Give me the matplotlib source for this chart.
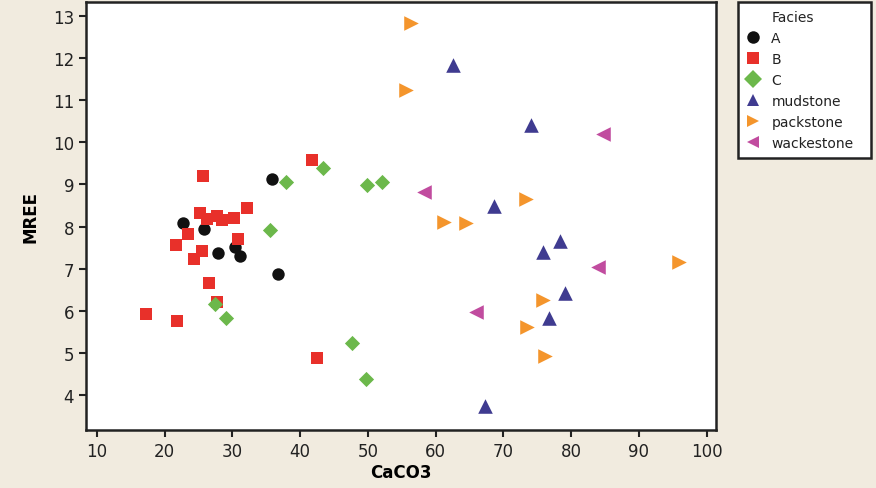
import matplotlib.pyplot as plt
from matplotlib.lines import Line2D

# values (CaCO3, MREE)
a_caco3 = [22.75, 25.85, 27.9, 30.4, 31.2, 35.8, 36.8]
a_mree = [8.08, 7.94, 7.37, 7.51, 7.30, 9.13, 6.87]

b_caco3 = [25.6, 25.3, 26.2, 27.7, 28.5, 30.2, 32.1, 23.5, 21.7, 25.5,
           24.4, 30.9, 26.5, 27.7, 17.2, 21.9, 41.8, 42.5]
b_mree = [9.20, 8.32, 8.18, 8.24, 8.16, 8.21, 8.44, 7.83, 7.56, 7.42,
          7.23, 7.70, 6.66, 6.20, 5.92, 5.76, 9.59, 4.87]

c_caco3 = [37.9, 35.55, 27.4, 29.0, 43.4, 49.9, 52.05, 47.7, 49.7]
c_mree = [9.06, 7.92, 6.15, 5.84, 9.38, 8.98, 9.06, 5.23, 4.37]

mud_caco3 = [62.6, 74.05, 68.7, 78.4, 75.9, 79.1, 76.8, 67.3]
mud_mree = [11.83, 10.42, 8.49, 7.65, 7.39, 6.42, 5.84, 3.75]

pack_caco3 = [56.4, 55.7, 73.3, 61.3, 64.5, 96.0, 75.8, 73.5, 76.1]
pack_mree = [12.82, 11.24, 8.65, 8.10, 8.08, 7.15, 6.25, 5.61, 4.93]

wack_caco3 = [84.7, 58.3, 84.05, 66.0]
wack_mree = [10.19, 8.83, 7.04, 5.98]

x_ticks = list(range(10, 101, 10))
y_ticks = list(range(4, 14))

groups = [
    ("A", a_caco3, a_mree, "o", "#111111", 80),
    ("B", b_caco3, b_mree, "s", "#e8302a", 75),
    ("C", c_caco3, c_mree, "D", "#6cb84b", 60),
    ("mudstone", mud_caco3, mud_mree, "^", "#3f3b90", 110),
    ("packstone", pack_caco3, pack_mree, ">", "#f4952c", 110),
    ("wackestone", wack_caco3, wack_mree, "<", "#c14c9f", 110),
]

bg = "#f1ebdf"
fig = plt.figure(figsize=(8.76, 4.89), dpi=100, facecolor=bg)
ax = fig.add_axes([86 / 876, 58 / 489, 630 / 876, 428 / 489])
ax.set_facecolor("white")

handles = [Line2D([], [], linestyle="none", marker="")]
labels = ["Facies"]
for name, xs, ys, mk, col, sz in groups:
    ax.scatter(xs, ys, marker=mk, s=sz, color=col, linewidths=0, zorder=3)
    handles.append(Line2D([], [], linestyle="none", marker=mk, color=col,
                          markersize=9, markeredgewidth=0))
    labels.append(name)

ax.set_xlim(8.4, 101.4)
ax.set_ylim(3.17, 13.33)
ax.set_xticks(x_ticks)
ax.set_yticks(y_ticks)
ax.tick_params(direction="out", length=5, width=1.5, labelsize=12,
               colors="#222222")
for sp in ax.spines.values():
    sp.set_linewidth(1.8)
    sp.set_color("#222222")

ax.set_xlabel("CaCO3", fontsize=12, fontweight="bold", labelpad=2)
ax.set_ylabel("MREE", fontsize=12, fontweight="bold", labelpad=10)

leg = fig.legend(handles, labels, loc="upper left",
                 bbox_to_anchor=(738 / 876, 1 - 3 / 489, 133 / 876, 0.0),
                 mode="expand",
                 fontsize=10, frameon=True, fancybox=False, framealpha=1,
                 handlelength=1.0, handletextpad=0.8, labelspacing=0.5,
                 borderpad=0.6, borderaxespad=0)
leg.get_frame().set_edgecolor("#222222")
leg.get_frame().set_linewidth(1.8)
for t in leg.get_texts():
    t.set_color("#222222")

fig.savefig("out.png", dpi=100, facecolor=bg)
